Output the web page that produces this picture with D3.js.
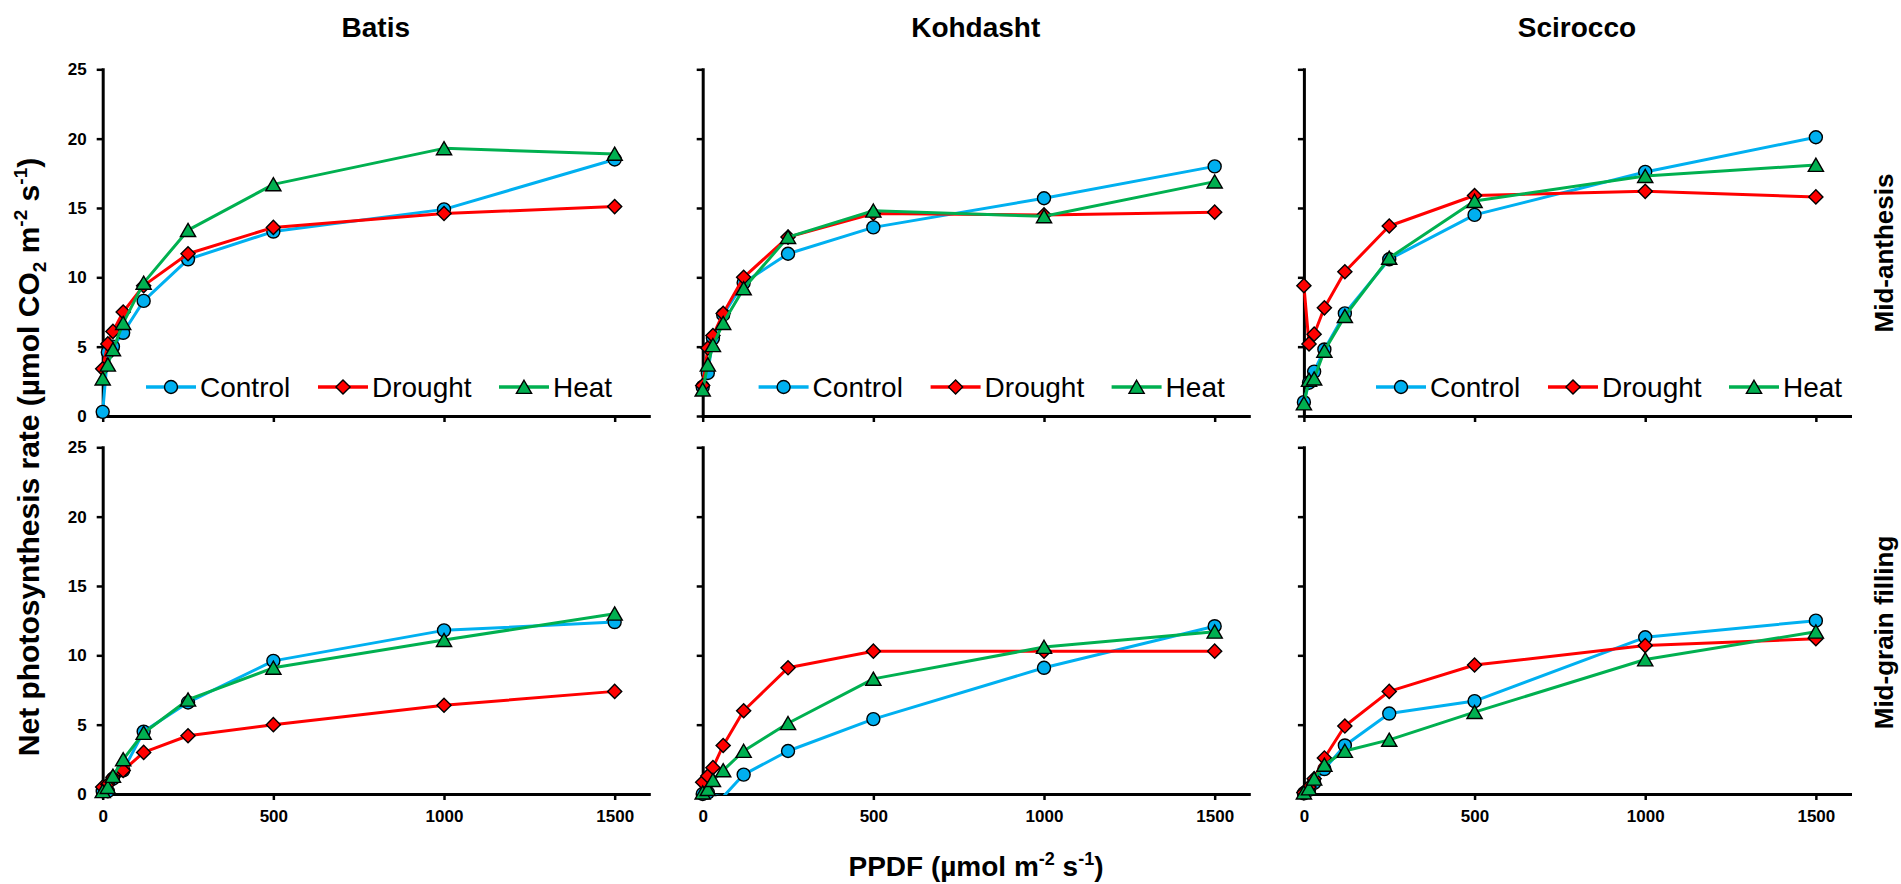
<!DOCTYPE html>
<html>
<head>
<meta charset="utf-8">
<script src="https://cdn.jsdelivr.net/npm/d3@7"></script>
<style>
  html, body { margin: 0; padding: 0; background: #ffffff; }
  svg { display: block; }
  text { font-family: "Liberation Sans", Arial, sans-serif; fill: #000; }
</style>
</head>
<body>
<script>
// ---------------- DATA ----------------
const ppfd = [0, 15, 30, 60, 120, 250, 500, 1000, 1500];
const cultivars = ["Batis", "Kohdasht", "Scirocco"];
const stages = ["Mid-anthesis", "Mid-grain filling"];
const treatments = ["Control", "Drought", "Heat"];
const xTicks = [0, 500, 1000, 1500];
const yTicks = [0, 5, 10, 15, 20, 25];

// Mid-anthesis
const batisAnthControl   = [0.3, 4.6, 5.0, 6.0, 8.3, 11.3, 13.3, 14.9, 18.5];
const batisAnthDrought   = [3.4, 5.2, 6.1, 7.5, 9.4, 11.7, 13.6, 14.6, 15.1];
const batisAnthHeat      = [2.7, 3.7, 4.8, 6.7, 9.6, 13.4, 16.7, 19.3, 18.9];
const kohAnthControl     = [2.1, 3.1, 5.6, 7.3, 9.6, 11.7, 13.6, 15.7, 18.0];
const kohAnthDrought     = [2.2, 4.9, 5.8, 7.4, 10.0, 12.9, 14.6, 14.5, 14.7];
const kohAnthHeat        = [1.9, 3.7, 5.1, 6.7, 9.2, 12.9, 14.8, 14.4, 16.9];
const sciAnthControl     = [1.0, 2.4, 3.2, 4.8, 7.4, 11.3, 14.5, 17.6, 20.1];
const sciAnthDrought     = [9.4, 5.2, 5.9, 7.8, 10.4, 13.7, 15.9, 16.2, 15.8];
const sciAnthHeat        = [0.9, 2.6, 2.7, 4.7, 7.2, 11.4, 15.5, 17.3, 18.1];
// Mid-grain filling
const batisGrainControl  = [0.2, 0.2, 1.1, 1.7, 4.5, 6.6, 9.6, 11.8, 12.4];
const batisGrainDrought  = [0.5, 0.7, 1.2, 1.7, 3.0, 4.2, 5.0, 6.4, 7.4];
const batisGrainHeat     = [0.2, 0.5, 1.3, 2.5, 4.4, 6.8, 9.1, 11.1, 13.0];
const kohGrainControl    = [0.0, 0.1, -0.1, -0.2, 1.4, 3.1, 5.4, 9.1, 12.1];
const kohGrainDrought    = [0.85, 1.3, 1.9, 3.5, 6.0, 9.1, 10.3, 10.3, 10.3];
const kohGrainHeat       = [0.1, 0.35, 1.0, 1.7, 3.1, 5.1, 8.3, 10.6, 11.7];
const sciGrainControl    = [0.05, 0.3, 0.8, 1.8, 3.5, 5.8, 6.7, 11.3, 12.5];
const sciGrainDrought    = [0.1, 0.5, 1.1, 2.6, 4.9, 7.4, 9.3, 10.7, 11.2];
const sciGrainHeat       = [0.1, 0.4, 1.1, 2.1, 3.1, 3.9, 5.9, 9.7, 11.7];

const panelSeries = [
  [[batisAnthControl, batisAnthDrought, batisAnthHeat],
   [kohAnthControl, kohAnthDrought, kohAnthHeat],
   [sciAnthControl, sciAnthDrought, sciAnthHeat]],
  [[batisGrainControl, batisGrainDrought, batisGrainHeat],
   [kohGrainControl, kohGrainDrought, kohGrainHeat],
   [sciGrainControl, sciGrainDrought, sciGrainHeat]]
];

// ---------------- STYLE / LAYOUT ----------------
const colors = ["#00B0F0", "#FF0000", "#00B050"];
const FONT = '"Liberation Sans", Arial, sans-serif';
const colLeft = [102.7, 702.7, 1303.9];
const rowTop = [69.3, 447.3];
const plotW = 546.1, plotH = 346.7;
const legendStart = [43.3, 55.9, 72.1];
const legendOffsets = [0, 172, 353];

const svg = d3.select("body").append("svg")
  .attr("width", 1901).attr("height", 884);

const defs = svg.append("defs");

function markerPath(s) {
  if (s === 0) return d3.symbol().type(d3.symbolCircle).size(Math.PI * 6.5 * 6.5)();
  if (s === 1) return d3.symbol().type(d3.symbolSquare).size(100)();
  return d3.symbol().type(d3.symbolTriangle).size(100)();
}
function markerTransform(s, px, py) {
  if (s === 1) return `translate(${px},${py}) rotate(45)`;
  if (s === 2) return `translate(${px},${py + 2})`;
  return `translate(${px},${py})`;
}

for (let r = 0; r < 2; r++) {
  for (let c = 0; c < 3; c++) {
    const left = colLeft[c], top = rowTop[r];
    const x = d3.scaleLinear().domain([0, 1600]).range([left, left + plotW]);
    const y = d3.scaleLinear().domain([0, 25]).range([top + plotH, top]);
    const g = svg.append("g");

    // axes
    const yAxis = d3.axisLeft(y).tickValues(yTicks).tickSize(6).tickSizeOuter(0).tickPadding(10)
      .tickFormat(c === 0 ? d3.format("d") : () => "");
    const xAxis = d3.axisBottom(x).tickValues(xTicks).tickSize(6).tickSizeOuter(0).tickPadding(10)
      .tickFormat(r === 1 ? d3.format("d") : () => "");
    const ya = g.append("g").attr("transform", `translate(${left},0)`).call(yAxis);
    const xa = g.append("g").attr("transform", `translate(0,${top + plotH})`).call(xAxis);
    [ya, xa].forEach(a => {
      a.select(".domain").attr("stroke", "#000").attr("stroke-width", 3).attr("stroke-linecap", "square");
      a.selectAll(".tick line").attr("stroke", "#000").attr("stroke-width", 2.5);
      a.selectAll(".tick text").attr("font-family", FONT).attr("font-size", 17)
        .attr("font-weight", "bold").attr("fill", "#000");
    });

    const clipId = `clip-${r}-${c}`;
    defs.append("clipPath").attr("id", clipId).append("rect")
      .attr("x", left - 20).attr("y", top - 20)
      .attr("width", plotW + 40).attr("height", plotH + 20 + 1);

    const line = d3.line().x(d => x(d.x)).y(d => y(d.v));
    panelSeries[r][c].forEach((vals, s) => {
      const pts = ppfd.map((p, i) => ({ x: p, v: vals[i] }));
      g.append("path").datum(pts)
        .attr("d", line).attr("fill", "none")
        .attr("stroke", colors[s]).attr("stroke-width", 3)
        .attr("stroke-linejoin", "round")
        .attr("clip-path", `url(#${clipId})`);
      g.selectAll(null).data(pts.filter(d => d.v >= 0)).enter().append("path")
        .attr("d", markerPath(s))
        .attr("transform", d => markerTransform(s, x(d.x), y(d.v)))
        .attr("fill", colors[s]).attr("stroke", "#000").attr("stroke-width", 1.4);
    });

    // legend (top row only)
    if (r === 0) {
      const lg = svg.append("g").attr("transform", `translate(${left + legendStart[c]},387)`);
      treatments.forEach((t, s) => {
        const ox = legendOffsets[s];
        lg.append("line").attr("x1", ox).attr("x2", ox + 50).attr("y1", 0).attr("y2", 0)
          .attr("stroke", colors[s]).attr("stroke-width", 3.5);
        lg.append("path").attr("d", markerPath(s))
          .attr("transform", markerTransform(s, ox + 25, 0))
          .attr("fill", colors[s]).attr("stroke", "#000").attr("stroke-width", 1.4);
        lg.append("text").attr("x", ox + 54).attr("y", 10)
          .attr("font-size", 28).attr("font-family", FONT).text(t);
      });
    }

    // column titles
    if (r === 0) {
      svg.append("text").attr("x", left + plotW / 2).attr("y", 36.7)
        .attr("text-anchor", "middle").attr("font-size", 28).attr("font-weight", "bold")
        .attr("font-family", FONT).text(cultivars[c]);
    }
  }
}

// row labels
[253, 632.5].forEach((cy, r) => {
  svg.append("text").attr("transform", `translate(1893,${cy}) rotate(-90)`)
    .attr("text-anchor", "middle").attr("font-size", 26).attr("font-weight", "bold")
    .attr("font-family", FONT).text(stages[r]);
});

// y-axis title
const yt = svg.append("text").attr("transform", "translate(39,457) rotate(-90)")
  .attr("text-anchor", "middle").attr("font-size", 30).attr("font-weight", "bold")
  .attr("font-family", FONT);
yt.append("tspan").text("Net photosynthesis rate (\u00B5mol CO");
yt.append("tspan").attr("dy", 7).attr("font-size", 19).text("2");
yt.append("tspan").attr("dy", -7).text(" m");
yt.append("tspan").attr("dy", -12).attr("font-size", 19).text("-2");
yt.append("tspan").attr("dy", 12).text(" s");
yt.append("tspan").attr("dy", -12).attr("font-size", 19).text("-1");
yt.append("tspan").attr("dy", 12).text(")");

// x-axis title
const xt = svg.append("text").attr("x", 976).attr("y", 876)
  .attr("text-anchor", "middle").attr("font-size", 28).attr("font-weight", "bold")
  .attr("font-family", FONT);
xt.append("tspan").text("PPDF (\u00B5mol m");
xt.append("tspan").attr("dy", -11).attr("font-size", 18).text("-2");
xt.append("tspan").attr("dy", 11).text(" s");
xt.append("tspan").attr("dy", -11).attr("font-size", 18).text("-1");
xt.append("tspan").attr("dy", 11).text(")");
</script>
</body>
</html>
